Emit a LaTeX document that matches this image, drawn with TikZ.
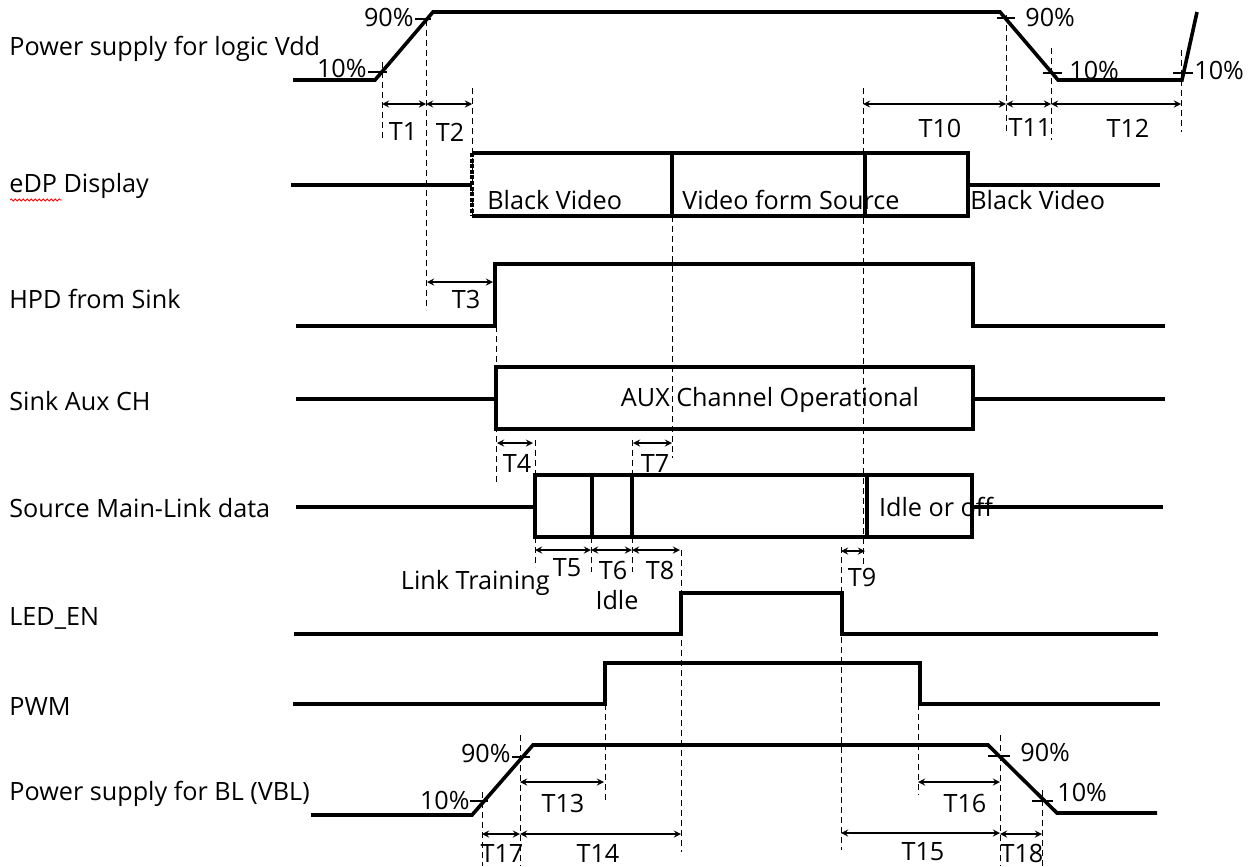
\documentclass[tikz,border=0pt]{standalone}
\usepackage{fontspec}
\setmainfont{Open Sans}
\usetikzlibrary{calc,positioning,arrows,decorations.pathmorphing}
\tikzstyle{sig}=[line width=1.8pt,line join=miter]
\tikzstyle{guide}=[densely dashed,line width=0.4pt]
\tikzstyle{interval}=[>=stealth,<->,line width=0.6pt]
\tikzstyle{tick}=[line width=0.9pt]

\begin{document}
\begin{tikzpicture}[x=0.5pt,y=-0.5pt,
    lbl/.style={inner sep=0,font=\fontsize{12.6}{14}\selectfont},
    rowname/.style={lbl,anchor=west}
    ]
    \useasboundingbox [fill=white] (0,0) rectangle (1258,867);

    % row names
    \node [rowname] (vdd) at (9,49) {Power supply for logic Vdd};
    \node [rowname] (edp) at (9,186) {eDP Display};
    \node [rowname] (hpd) at (9,299) {HPD from Sink};
    \node [rowname] (aux) at (9,401) {Sink Aux CH};
    \node [rowname] (mainlink) at (9,508) {Source Main-Link data};
    \node [rowname] (leden) at (9,618) {LED\_EN};
    \node [rowname] (pwm) at (9,706) {PWM};
    \node [rowname] (vbl) at (9,794) {Power supply for BL (VBL)};
    \draw [red,line width=0.4pt,decorate,
      decoration={snake,amplitude=0.5pt,segment length=2pt}]
      (10,200) -- (62,200);

    % guide lines
    \foreach \x/\ya/\yb in {382/62/140,426/20/310,472/88/215,863/88/565,
        1006/15/135,1051/48/140,1181/50/132,496/326/482,535/440/475,
        535/537/567,591/537/572,632/440/475,632/537/572,672/216/458,
        681/550/852,841/547/850,605/704/800,918/704/795,482/792/866,
        520/735/866,1000/735/866,1042/790/866} {
      \draw [guide] (\x,\ya) -- (\x,\yb);
    }

    % power supply for logic
    \draw [sig] (293,80) -- (375,80) -- (433,12) -- (1000,12) -- (1058,80)
      -- (1182,80) -- (1197,12);
    \draw [tick] (368,72) -- (387,72);
    \draw [tick] (415,19) -- (431,19);
    \draw [tick] (997,18) -- (1015,18);
    \draw [tick] (1043,73) -- (1062,73);
    \draw [tick] (1173,73) -- (1193,73);
    \node [lbl,anchor=east] (p10a) at (367,68) {10\%};
    \node [lbl,anchor=east] (p90a) at (414,17) {90\%};
    \node [lbl,anchor=west] (p90b) at (1025,17) {90\%};
    \node [lbl,anchor=west] (p10b) at (1069,70) {10\%};
    \node [lbl,anchor=west] (p10c) at (1194,70) {10\%};

    % eDP display
    \draw [sig] (291,185) -- (472,185);
    \draw [sig] (472,153) -- (968,153) -- (968,216) -- (472,216);
    \draw [sig,dash pattern=on 2pt off 0.8pt] (472,153) -- (472,216);
    \draw [sig] (672,153) -- (672,216);
    \draw [sig] (865,153) -- (865,216);
    \draw [sig] (968,185) -- (1160,185);
    \node [lbl,anchor=west] (black1) at (487,200) {Black Video};
    \node [lbl,anchor=west] (video) at (682,200) {Video form Source};
    \node [lbl,anchor=west] (black2) at (970,200) {Black Video};

    % HPD
    \draw [sig] (296,326) -- (495,326) -- (495,264) -- (973,264) -- (973,326)
      -- (1165,326);

    % aux channel
    \draw [sig] (296,399) -- (496,399);
    \draw [sig] (496,367) rectangle (973,429);
    \draw [sig] (973,399) -- (1165,399);
    \node [lbl] (auxop) at (770,400) {AUX Channel Operational};

    % main link
    \draw [sig] (296,507) -- (535,507);
    \draw [sig] (535,475) rectangle (972,537);
    \foreach \x in {592,632,867} {
      \draw [sig] (\x,475) -- (\x,537);
    }
    \draw [sig] (972,507) -- (1163,507);
    \node [lbl] (idleoff) at (936,507) {Idle or off};
    \node [lbl,anchor=east] (training) at (550,583) {Link Training};
    \node [lbl] (idle) at (617,600) {Idle};

    % LED_EN and PWM
    \draw [sig] (294,634) -- (681,634) -- (681,593) -- (842,593) -- (842,634)
      -- (1158,634);
    \draw [sig] (293,704) -- (605,704) -- (605,663) -- (920,663) -- (920,704)
      -- (1160,704);

    % power supply for backlight
    \draw [sig] (311,815) -- (472,815) -- (533,745) -- (988,745) -- (1057,813)
      -- (1157,813);
    \draw [tick] (470,801) -- (488,801);
    \draw [tick] (512,757) -- (530,757);
    \draw [tick] (988,756) -- (1010,756);
    \draw [tick] (1032,801) -- (1053,801);
    \node [lbl,anchor=east] (p90d) at (511,753) {90\%};
    \node [lbl,anchor=east] (p10d) at (470,800) {10\%};
    \node [lbl,anchor=west] (p90e) at (1020,752) {90\%};
    \node [lbl,anchor=west] (p10e) at (1057,792) {10\%};

    % timing intervals
    \foreach \xa/\xb/\y/\t/\xl/\yl in {382/426/104/T1/403/132,
        426/472/104/T2/450/132,863/1006/104/T10/940/128,
        1006/1051/104/T11/1030/128,1051/1181/104/T12/1128/128,
        427/493/282/T3/466/299,497/533/443/T4/517/463,
        633/672/443/T7/655/463,535/591/550/T5/567/568,
        591/632/550/T6/613/570,632/680/550/T8/660/570,
        841/865/551/T9/862/577,520/604/782/T13/563/803,
        918/1000/782/T16/965/803,482/520/834/T17/502/853,
        520/681/834/T14/598/853,841/1000/833/T15/923/852,
        1000/1042/834/T18/1022/853} {
      \draw [interval] (\xa,\y) -- (\xb,\y);
      \node [lbl] (\t) at (\xl,\yl) {\t};
    }
  \end{tikzpicture}
\end{document}
